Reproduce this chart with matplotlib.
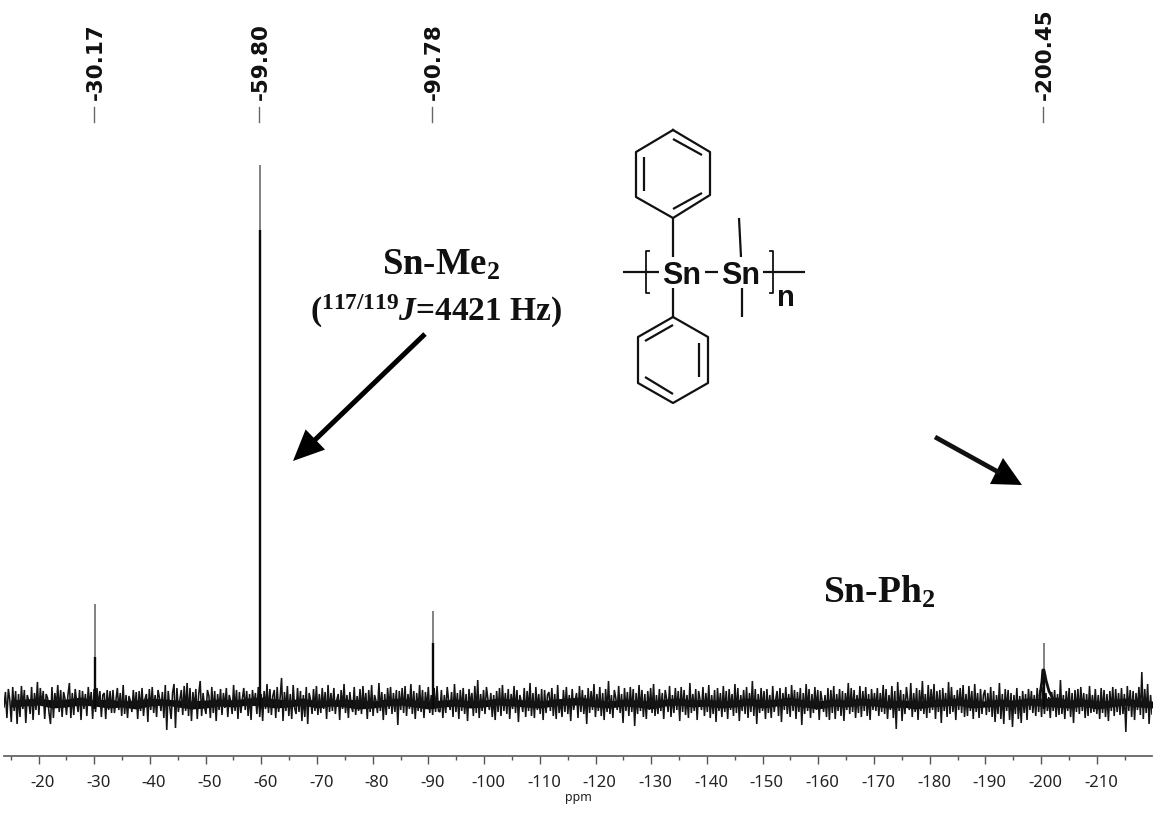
import matplotlib
matplotlib.use("Agg")
import matplotlib.pyplot as plt
import numpy as np
from matplotlib.patches import Polygon
from matplotlib.transforms import ScaledTranslation

plt.rcParams["mathtext.fontset"] = "custom"
plt.rcParams["mathtext.rm"] = "Liberation Serif:bold"
plt.rcParams["mathtext.bf"] = "Liberation Serif:bold"
plt.rcParams["mathtext.it"] = "Liberation Serif:italic:bold"

W, H = 1164, 814

# baseline noise, one list per stretch of the axis, in px above baseline
noise_a = [-4, 11, -15, 14, 3, -19, 16, -8, 12, -21, 9, -14, 17, -6, 13, -20, 8, 2, -11, 16, -17, 10, -7, 21, -12, 15, -3, 12, -16, 9, 5, -10, -21, 16, -15, 10, -4, 18, -9, 13, -14, 11, 4, -12, 8, 20, -15, 10, -12, 14, 1, -9, 13, -17, 12, -6, 9, -13, 16, -3, 11, -16, 14, -9, 15, -4, 12, -14, 8, 10, -16, 13, -7, 12, -10]
noise_b = [13, -10, 3, 15, -7, 10, -13, 18, -11, 8, -15, 7, 2, -9, 13, -6, 11, -16, 12, -8, 15, -13, 4, 9, -19, 14, -7, 16, -10, 8, -14, 13, 5, -8, 11, -15, 18, -27, 12, -3, -16, 10, 19, -25, 15, -9, 3, 13, -12, 17, -8, 20, -13, 15, -18, 11, -6, 14, -16, 9, 22, -13, 10, -4, -11, 13, 7, -15, 16, -10, 12, -18, 9, -7, 14]
noise_c = [-12, 10, -5, 15, -14, 8, 2, -11, 18, -8, 13, -16, 11, -10, 4, 15, -7, 12, -13, 9, -17, 13, -3, 10, -11, 16, -14, 9, -18, 12, -6, 19, -10, 14, -12, 7, 13, -15, 16, -9, 5, 25, -18, 11, -8, 17, -13, 9, -16, 18, -5, -11, 15, -9, 12, -18, 8, -14, 16, -21, 10, 3, -11, 14, -8, 17, -12, 9, -10, 15, -6, 11, -16, 18, -9]
noise_d = [10, -8, 15, -11, 3, 9, -17, 13, -6, 19, -10, 8, -15, 11, -3, -9, 16, -12, 7, -8, 14, -11, 17, -6, 10, -16, 13, -9, 18, -13, 8, 2, -10, 20, -8, 11, -17, 9, -12, 15, -6, 16, -11, 10, -9, 13, -22, 12, -7, 15, -10, 17, -13, 9, -6, 19, -11, 12, -16, 10, -8, 18, -9, 13, -15, 11, -6, 16, -10, 8, -12, 15, -9, 17, -8]
noise_e = [-9, 13, -15, 8, -10, 16, 2, -7, 11, -14, 19, -9, 10, -16, 13, -8, 15, -11, 9, -18, 14, -3, 10, -13, 17, -10, 23, -15, 9, -8, 13, -11, 16, 4, -7, 10, -14, 8, -17, 12, -9, 15, -13, 18, -8, 10, -11, 14, -16, 9, -6, 17, -10, 13, -19, 8, 1, -9, 15, -14, 12, -8, 20, -13, 10, -15, 16, -7, 9, -11, 14, -17, 13, -10, 8]
noise_f = [11, -8, 15, -13, 9, -16, 18, -10, 3, -14, 13, -9, 16, -11, 8, -18, 14, -7, 2, 10, -15, 17, -9, 13, -11, 8, -21, 15, -10, 12, -7, 19, -14, 9, -8, 16, -13, 10, -17, 14, -9, 22, -11, 8, -15, 13, 5, -7, 17, -10, 9, -20, 15, -8, 11, -13, 16, -9, 14, -23, 10, -11, 18, -8, 13, -14, 9, -16, 12, -7, 15, -10, 19, -13, 8]
noise_g = [-11, 14, -8, 10, -16, 13, 4, -9, 17, -14, 8, -10, 15, -7, 12, -18, 16, -9, 13, -12, 8, -15, 20, -10, 9, -8, 14, -17, 12, 3, -7, 16, -13, 10, -9, 18, -15, 8, -11, 13, -19, 15, -8, 10, -14, 17, -9, 12, -16, 14, -7, 9, -13, 19, -10, 15, -18, 8, -8, 13, -11, 16, -15, 10, -9, 22, -13, 14, -21, 9, -10, 15, -8, 12, -16]
noise_h = [14, -10, 8, -15, 17, -9, 3, 12, -13, 15, -19, 10, -7, 16, -11, 9, -14, 18, -8, 13, -16, 11, -9, 15, -22, 10, -11, 19, -8, 14, -15, 9, -10, 16, -7, 13, -17, 12, 2, -9, 8, -14, 15, -17, 13, -10, 17, -16, 9, -8, 14, -13, 12, -18, 10, -7, 20, -11, 15, -9, 13, -15, 8, -10, 17, -14, 12, -8, 16, -13, 9, -17, 14, -7, 10]
noise_i = [-8, 15, -13, 10, -9, 18, -11, 14, -16, 8, -7, 17, -15, 12, -26, 21, -8, 13, -18, 9, -11, 16, 3, -7, 20, -14, 10, -9, 15, -17, 13, -8, 22, -11, 9, -15, 18, -10, 14, -7, 19, -16, 12, -9, 13, -20, 15, -8, 10, -14, 21, -11, 16, -9, 8, -17, 13, -7, 15, -10, 18, -14, 9, -13, 17, -8, 12, -16, 19, -9, 10, -15, 14, -11, 8]
noise_j = [13, -12, 10, -9, 16, -14, 12, -19, 8, -11, 20, -16, 9, -21, 14, -8, 13, -17, 10, -24, 8, -11, 15, -16, 7, -20, 12, -10, 9, -17, 14, -7, 12, -10, 8, -13, 15, -9, 13, -14, 16, -11, 10, -8, 6, -15, 11, -8, 13, -14, 9, -12, 23, -11, 8, -16, 12, -8, 15, -14, 10, -20, 13, -9, 14, -11, 16, -8, 10, -15, 9, -13, 17, -10, 8]
noise_k = [-9, 14, -11, 8, -16, 15, -10, 13, -14, 9, -18, 12, -8, 16, -13, 14, -9, 10, -12, 15, -11, 9, -29, 17, -8, 13, -14, 12, -17, 10, -7, 16, -12, 31, -16, 14, -10, 19, -21, 8, -11]
noise_lists = [noise_a, noise_b, noise_c, noise_d, noise_e, noise_f, noise_g, noise_h, noise_i, noise_j, noise_k]

# thin dark core of the noise band, every 2.5 ppm from -15 to -220
core_hi = [3, 4, 5, 3, 4, 6, 3, 4, 2, 3, 5, 4, 3, 2, 3, 4, 3, 5, 6, 4, 3, 5, 2, 3, 4, 3, 2, 4, 5, 3, 2, 3, 4, 2, 3, 5, 4, 3, 2, 4, 5, 6, 3, 2, 4, 3, 2, 4, 5, 3, 4, 2, 3, 5, 3, 4, 6, 3, 2, 4, 3, 5, 4, 2, 3, 2, 3, 4, 5, 3, 2, 4, 3, 5, 4, 6, 3, 4, 2, 3, 5, 3, 2]
core_lo = [-4, -3, -2, -5, -4, -2, -3, -5, -4, -6, -3, -2, -4, -6, -5, -3, -4, -2, -3, -5, -4, -2, -5, -3, -4, -6, -5, -3, -2, -4, -6, -4, -3, -5, -4, -2, -3, -4, -5, -3, -2, -2, -4, -5, -3, -4, -6, -3, -2, -4, -3, -5, -4, -2, -5, -3, -2, -4, -6, -3, -4, -2, -3, -5, -4, -6, -4, -3, -2, -5, -4, -3, -4, -2, -3, -4, -5, -3, -6, -4, -2, -4, -5]

peak_ppm = [-30.17, -59.80, -90.78, -200.45]
peak_labels = ["-30.17", "-59.80", "-90.78", "-200.45"]
peak_tops = [99, 538, 92, 60]
peak_solid = [46, 473, 60, 28]
hump_ppm = [-199.8, -200.15, -200.3, -200.5, -200.9, -201.4, -201.95]
hump_vals = [8, 22, 33, 33, 22, 12, 6]

major_ticks = list(range(-20, -211, -10))
minor_ticks = list(range(-15, -216, -10))
major_labels = [str(t) for t in major_ticks]

fig = plt.figure(figsize=(W / 100, H / 100), dpi=100)

# spectrum axes: left 4, right 1152, bottom 756 in image px
ax = fig.add_axes([4 / W, 1 - 756 / H, 1148 / W, 636 / H])
ax.set_xlim(-13.8, -219.9)
ax.set_ylim(-53, 583)
ax.patch.set_alpha(0)

noise = np.concatenate(noise_lists)
ppm = np.linspace(-13.8, -219.9, len(noise))
ax.plot(ppm, noise, color="#141414", lw=1.15, solid_joinstyle="miter")
core_ppm = np.linspace(-15, -220, len(core_hi))
ax.fill_between(core_ppm, core_lo, core_hi, color="#0a0a0a", lw=0)
ax.vlines(peak_ppm, -6, peak_solid, color="#0a0a0a", lw=1.7)
ax.vlines(peak_ppm, peak_solid, peak_tops, color="#777777", lw=1.3)
ax.plot(hump_ppm, hump_vals, color="#111111", lw=2.0)

for s in ["top", "left", "right"]:
    ax.spines[s].set_visible(False)
ax.spines["bottom"].set_color("#666666")
ax.spines["bottom"].set_linewidth(1.3)
ax.set_yticks([])
ax.set_xticks(major_ticks)
ax.set_xticks(minor_ticks, minor=True)
ax.set_xticklabels(major_labels, fontname="Noto Sans", fontsize=12, color="#222222")
ax.tick_params(axis="x", which="major", length=6, width=1.0, color="#555555", pad=7.5)
ax.tick_params(axis="x", which="minor", length=3, width=1.0, color="#555555")
shift = ScaledTranslation(3 / 72, 0, fig.dpi_scale_trans)
for lab in ax.get_xticklabels():
    lab.set_transform(lab.get_transform() + shift)

# overlay in image px for labels and the structure drawing
ov = fig.add_axes([0, 0, 1, 1])
ov.set_xlim(0, W)
ov.set_ylim(H, 0)
ov.axis("off")
ov.patch.set_alpha(0)

ov.text(578, 798, "ppm", ha="center", va="center", fontname="Noto Sans", fontsize=9, color="#222222")

for p, lab in zip(peak_ppm, peak_labels):
    px = 4 + (-13.8 - p) / 206.1 * 1148 - 1
    ov.plot([px, px], [107, 122], color="#666666", lw=1.0)
    ov.text(px + 2, 100, lab, rotation=90, ha="center", va="bottom", fontname="DejaVu Sans",
            fontweight="bold", fontsize=15.5, color="#111111")


def seg(x0, y0, x1, y1, lw=1.6):
    ov.plot([x0, x1], [y0, y1], color="#111111", lw=lw, solid_capstyle="butt")


def ring(outer, inner):
    xs = [p[0] for p in outer] + [outer[0][0]]
    ys = [p[1] for p in outer] + [outer[0][1]]
    ov.plot(xs, ys, color="#111111", lw=1.6)
    for a, b in inner:
        seg(a[0], a[1], b[0], b[1])


ring([(673, 130), (710, 152), (710, 195), (673, 218), (636, 197), (636, 152)],
     [((673, 139), (702, 155)), ((644, 157), (644, 191)), ((673, 209), (702, 193))])
ring([(673, 317), (708, 337), (708, 383), (673, 403), (638, 383), (638, 337)],
     [((645, 341), (673, 325)), ((699, 343), (699, 377)), ((645, 377), (673, 394))])

seg(673, 218, 673, 257)
seg(673, 288, 673, 317)
seg(623, 272, 659, 272)
seg(705, 272, 718, 272)
seg(763, 272, 805, 272)
seg(739, 218, 741, 257)
seg(742, 288, 742, 317)
ov.plot([649, 646, 646, 649], [251, 251, 293, 293], color="#111111", lw=1.3)
ov.plot([770, 773, 773, 770], [251, 251, 293, 293], color="#111111", lw=1.3)

for x_sn in [682, 741]:
    ov.text(x_sn, 273, "Sn", ha="center", va="center_baseline", fontname="Liberation Sans",
            fontweight="bold", fontsize=22, color="#111111")
ov.text(786, 295, "n", ha="center", va="center_baseline", fontname="Liberation Sans",
        fontweight="bold", fontsize=21, color="#111111")

serif = dict(fontname="Liberation Serif", fontweight="bold", color="#111111")
ov.text(441, 275, r"Sn-Me$_{\mathbf{2}}$", ha="center", va="baseline", fontsize=26.5, **serif)
ov.text(436.5, 321, r"($^{\mathbf{117/119}}\mathit{J}$=4421 Hz)", ha="center", va="baseline", fontsize=24, **serif)
ov.text(879, 603, r"Sn-Ph$_{\mathbf{2}}$", ha="center", va="baseline", fontsize=27, **serif)

ov.arrow(425, 334, -132, 127, width=5, head_width=28, head_length=31, length_includes_head=True,
         color="black", lw=0)
seg(935, 437, 1000, 473, lw=3.4)
ov.add_patch(Polygon([(1003, 458), (990, 484), (1022, 485)], closed=True, color="black", lw=0))

fig.savefig("out.png", dpi=100, facecolor="white")
